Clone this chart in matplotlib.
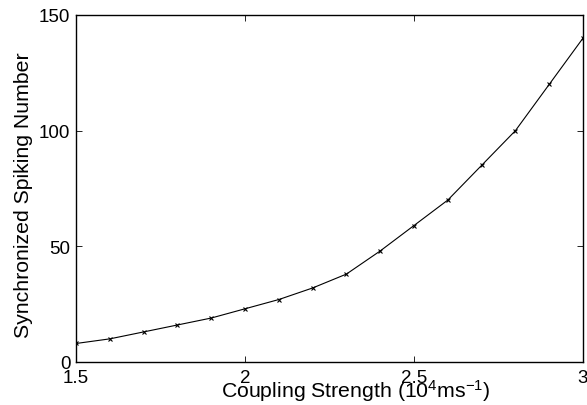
import matplotlib
matplotlib.use("Agg")
import matplotlib.pyplot as plt

coupling = [1.5, 1.6, 1.7, 1.8, 1.9, 2.0, 2.1, 2.2, 2.3, 2.4, 2.5, 2.6, 2.7, 2.8, 2.9, 3.0]
spikes = [8, 10, 13, 16, 19, 23, 27, 32, 38, 48, 59, 70, 85, 100, 120, 140]
xticks = [1.5, 2, 2.5, 3]
xticklabels = ["1.5", "2", "2.5", "3"]
yticks = [0, 50, 100, 150]

plt.rcParams['font.family'] = ['Liberation Sans', 'DejaVu Sans']
plt.rcParams['mathtext.fontset'] = 'custom'
plt.rcParams['mathtext.rm'] = 'Liberation Sans'
plt.rcParams['mathtext.it'] = 'Liberation Sans'

fig = plt.figure(figsize=(5.87, 4.06), dpi=100)
W, H = 587, 406
ax = fig.add_axes([76 / W, 1 - 363 / H, (583 - 76) / W, (363 - 16) / H])

ax.plot(coupling, spikes, color='black', linewidth=0.8, marker='x', markersize=3.5, markeredgewidth=0.8)

ax.set_xlim(1.5, 3)
ax.set_ylim(0, 150)
ax.set_xticks(xticks)
ax.set_xticklabels(xticklabels)
ax.set_yticks(yticks)
ax.tick_params(direction='in', top=True, right=True, labelsize=13.5, length=4, width=0.6)
ax.tick_params(axis='x', pad=5)
ax.tick_params(axis='y', pad=4)
for s in ax.spines.values():
    s.set_linewidth(1.0)

ax.set_xlabel(r"Coupling Strength (10$^{4}$ms$^{-1}$)", fontsize=15.3)
ax.xaxis.set_label_coords((356 - 76) / 507, -(398 - 363) / 347, transform=ax.transAxes)
ax.xaxis.label.set_va('baseline')
ax.set_ylabel("Synchronized Spiking Number", fontsize=15.3)
ax.yaxis.set_label_coords(-(76 - 24) / 507, (363 - 195) / 347, transform=ax.transAxes)
ax.yaxis.label.set_va('center')

fig.savefig("out.png", dpi=100)
